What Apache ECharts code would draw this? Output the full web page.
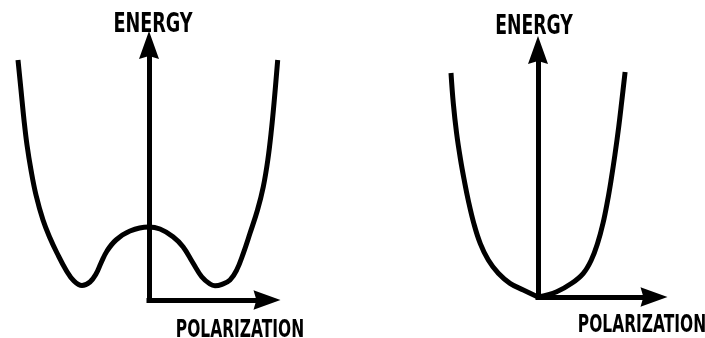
<!DOCTYPE html>
<html>
<head>
<meta charset="utf-8">
<title>Energy vs polarization</title>
<script src="https://cdn.jsdelivr.net/npm/echarts@6/dist/echarts.min.js"></script>
<style>
    html, body { margin: 0; padding: 0; background: #fff; }
    #main { width: 705px; height: 338px; }
</style>
</head>
<body>
<div id="main"></div>
<script>
// left panel: double well, right panel: single well
// polarization / energy (arbitrary units)
var wellP = [-13.05, -12.75, -12.45, -12.15, -11.75, -11.25, -10.55, -9.85, -9.15, -8.25, -7.45, -6.65,
             -5.85, -5.25, -4.75, -4.15, -3.25, -1.85, 0,
             1.15, 2.45, 3.45, 4.45, 5.32, 6.15, 6.65, 7.35, 8.15, 8.82, 9.48, 10.15, 10.9,
             11.48, 11.93, 12.29, 12.58, 12.92];
var wellE = [24.0, 21.0, 18.0, 15.5, 13.0, 10.5, 8.0, 6.2, 4.7, 3.0, 1.9, 1.45,
             1.8, 2.6, 3.7, 4.9, 6.0, 6.9, 7.3,
             7.1, 6.33, 5.33, 3.7, 2.33, 1.6, 1.43, 1.57, 2.0, 3.0, 4.67, 6.67, 9.0,
             11.33, 14.0, 17.0, 20.0, 24.0];

var paraP = [-8.7, -8.47, -8.14, -7.74, -7.38, -6.98, -6.42, -5.78, -4.97, -3.97, -2.8, -1.47, 0,
             1.87, 3.37, 4.53, 5.33, 5.96, 6.5, 6.97, 7.31, 7.69, 8.07, 8.39, 8.71];
var paraE = [22.4, 19.37, 16.37, 13.7, 11.7, 9.7, 7.37, 5.37, 3.7, 2.37, 1.37, 0.7, 0,
             0.53, 1.37, 2.37, 3.7, 5.37, 7.37, 9.7, 11.7, 14.2, 17.0, 19.7, 22.5];

var xName = 'POLARIZATION';
var yName = 'ENERGY';

function pairs(xs, ys) {
    var out = [];
    for (var i = 0; i < xs.length; i++) {
        out.push([xs[i], ys[i]]);
    }
    return out;
}

// the single well has a corner at the origin, so draw its two branches separately
var paraData = pairs(paraP, paraE);
var vertex = paraP.indexOf(0);

var myChart = echarts.init(document.getElementById('main'));

var arrow = 'path://M10,0 L20,28 L10,25 L0,28 Z';
var labelFont = 'bold 20px "DejaVu Sans Condensed", sans-serif';

// visible axes with arrow heads (only the positive quadrant)
function makeAxis(gridIndex, max, symbolSize) {
    return {
        type: 'value',
        gridIndex: gridIndex,
        min: 0,
        max: max,
        axisLine: {
            show: true,
            symbol: ['none', arrow],
            symbolSize: symbolSize,
            lineStyle: { color: '#000', width: 5, cap: 'square' }
        },
        axisTick: { show: false },
        axisLabel: { show: false },
        splitLine: { show: false }
    };
}

// hidden axes for the curves, same scale but wider range
function hiddenAxis(gridIndex, min, max) {
    return { type: 'value', gridIndex: gridIndex, min: min, max: max, show: false };
}

function makeCurve(index, data) {
    return {
        type: 'line',
        xAxisIndex: index,
        yAxisIndex: index,
        data: data,
        smooth: 0.4,
        clip: false,
        showSymbol: false,
        silent: true,
        lineStyle: { color: '#000', width: 5 }
    };
}

function makeLabel(text, x, y, align, vAlign, sx, sy) {
    return {
        type: 'text',
        x: x,
        y: y,
        scaleX: sx,
        scaleY: sy,
        style: {
            text: text,
            x: 0,
            y: 0,
            fill: '#000',
            font: labelFont,
            align: align,
            verticalAlign: vAlign
        }
    };
}

var option = {
    backgroundColor: '#fff',
    animation: false,
    grid: [
        { left: 149, top: 45, width: 118, height: 255 },
        { left: 538, top: 50, width: 116, height: 247 },
        { left: 13.5, top: 45, width: 270, height: 255 },
        { left: 448, top: 50, width: 180, height: 247 }
    ],
    xAxis: [
        makeAxis(0, 11.8, [22, 27]),
        makeAxis(1, 11.6, [22, 27]),
        hiddenAxis(2, -13.5, 13.5),
        hiddenAxis(3, -9, 9)
    ],
    yAxis: [
        makeAxis(0, 25.5, [23, 28]),
        makeAxis(1, 24.7, [24, 28]),
        hiddenAxis(2, 0, 25.5),
        hiddenAxis(3, 0, 24.7)
    ],
    series: [
        makeCurve(2, pairs(wellP, wellE)),
        makeCurve(3, paraData.slice(0, vertex + 1)),
        makeCurve(3, paraData.slice(vertex))
    ],
    graphic: [
        makeLabel(yName, 153, 38, 'center', 'bottom', 0.98, 1.3),
        makeLabel(xName, 240, 319, 'center', 'top', 0.86, 1.2),
        makeLabel(yName, 534, 40, 'center', 'bottom', 0.96, 1.3),
        makeLabel(xName, 642, 314, 'center', 'top', 0.86, 1.2)
    ]
};

myChart.setOption(option);
window.addEventListener("resize", function () {
    myChart.resize();
});
</script>
</body>
</html>
